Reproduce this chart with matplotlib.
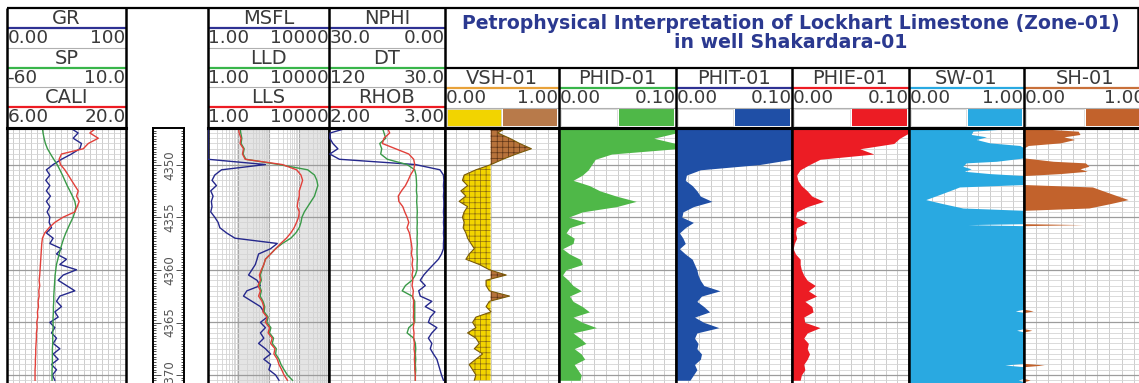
import numpy as np
import matplotlib.pyplot as plt

plt.rcParams['font.family'] = ['DejaVu Sans']
plt.rcParams['hatch.linewidth'] = 0.5

W, H = 1139, 383

# log samples, every 0.5 m
depth = np.arange(4346.5, 4370.75, 0.5)

gr = [52.8, 59.8, 55.6, 62.6, 61.2, 54.2, 45.8, 38.8, 33.1, 36.0, 32.6, 36.0, 33.1, 36.5, 33.1, 36.0, 33.7,
      36.0, 35.4, 37.4, 33.1, 38.8, 36.0, 45.8, 41.6, 50.0, 44.4, 58.4, 47.2, 43.0, 50.0, 57.0, 44.4, 41.6,
      45.8, 40.2, 43.0, 36.0, 40.2, 37.4, 41.6, 38.8, 44.4, 38.8, 43.0, 37.4, 41.6, 38.2, 40.2]
sp = [-39.2, -38.8, -38.2, -37.4, -36.2, -34.4, -32.5, -30.5, -28.9, -27.4, -26.0, -24.6, -23.0, -21.5, -20.1,
      -19.5, -20.1, -21.1, -22.6, -24.0, -25.4, -26.6, -27.6, -28.5, -29.3, -30.1, -30.9, -31.3, -31.7, -31.9,
      -32.1, -32.3, -32.5, -32.5, -32.7, -32.7, -32.9, -32.9, -32.9, -33.1, -33.1, -33.1, -33.3, -33.3, -33.3,
      -33.3, -33.5, -33.5, -33.5]
cali = [16.54, 15.75, 16.74, 15.56, 14.97, 12.41, 12.13, 12.29, 12.80, 13.20, 13.59, 13.98, 14.38, 14.18,
        14.49, 14.26, 13.98, 12.61, 11.62, 10.96, 10.44, 10.17, 10.09, 10.05, 10.01, 9.97, 9.93, 9.89, 9.85,
        9.78, 9.85, 9.74, 9.78, 9.66, 9.70, 9.58, 9.62, 9.50, 9.54, 9.46, 9.46, 9.42, 9.38, 9.38, 9.34, 9.34,
        9.30, 9.30, 9.30]

msfl = [1.0, 1.0, 1.0, 1.0, 1.0, 1.0, 1.0, 79, 2.8, 1.67, 1.36, 1.9, 1.23, 1.47, 1.29, 1.36, 1.23, 1.67, 2.16,
        2.46, 4.1, 7.8, 195, 117, 47, 41.7, 36.7, 28.4, 21.9, 41.7, 54, 19.3, 14.9, 28.4, 54, 70, 90, 54, 79,
        54, 70, 47, 79, 117, 70, 117, 103, 172, 222]
lld = [11.5, 12.1, 13.1, 12.4, 15.7, 14.5, 17.8, 222, 1977, 3311, 3963, 4279, 3758, 3311, 2557, 1977, 1528,
       1277, 1183, 1040, 803, 546, 287, 172, 117, 79, 70, 61, 54, 58, 50, 58, 53, 66, 75, 72, 97, 88, 120, 108,
       147, 133, 181, 172, 222, 259, 327, 422, 621]
lls = [10.1, 10.7, 12.4, 11.5, 14.9, 13.8, 16.9, 287, 846, 1183, 1343, 1183, 1040, 1040, 938, 891, 1040, 987,
       846, 706, 546, 391, 253, 172, 117, 79, 70, 58, 50, 54, 45, 54, 47, 61, 70, 65, 90, 79, 108, 97, 133, 117,
       163, 151, 195, 222, 273, 327, 422]

nphi = [25.0, 29.7, 29.8, 29.0, 27.7, 29.8, 27.3, 7.7, 1.3, 0.4, 0.3, 0.4, 0.3, 0.4, 0.3, 0.3, 0.4, 0.3, 0.4,
        0.3, 0.4, 0.3, 0.4, 0.4, 0.9, 1.7, 3.0, 4.3, 5.5, 6.4, 5.1, 6.8, 6.4, 3.4, 5.1, 2.6, 3.8, 4.3, 2.1, 3.4,
        4.3, 3.4, 3.8, 3.0, 2.1, 1.7, 1.3, 0.9, 0.4]
dt = [78.6, 77.3, 76.0, 80.6, 79.1, 79.9, 74.7, 59.4, 53.5, 52.5, 52.2, 52.0, 52.2, 51.7, 52.0, 51.7, 51.5,
      51.7, 51.5, 51.7, 51.5, 51.7, 51.5, 51.7, 51.7, 51.5, 51.7, 51.7, 53.0, 55.6, 60.7, 63.2, 55.6, 53.5,
      53.5, 53.5, 53.5, 53.5, 58.1, 59.4, 54.3, 53.0, 52.7, 53.0, 52.7, 53.0, 52.7, 53.0, 53.0]
rhob = [2.503, 2.523, 2.474, 2.460, 2.574, 2.688, 2.730, 2.739, 2.730, 2.702, 2.682, 2.659, 2.625, 2.597,
        2.602, 2.636, 2.653, 2.673, 2.688, 2.673, 2.693, 2.702, 2.710, 2.716, 2.710, 2.722, 2.716, 2.724,
        2.716, 2.722, 2.716, 2.727, 2.722, 2.730, 2.727, 2.730, 2.727, 2.733, 2.727, 2.733, 2.730, 2.736,
        2.733, 2.739, 2.736, 2.739, 2.739, 2.744, 2.744]

vsh = [0.537, 0.463, 0.566, 0.655, 0.758, 0.625, 0.507, 0.404, 0.271, 0.168, 0.153, 0.198, 0.139, 0.183,
       0.124, 0.198, 0.168, 0.153, 0.168, 0.159, 0.183, 0.198, 0.227, 0.257, 0.212, 0.183, 0.301, 0.389,
       0.537, 0.360, 0.360, 0.389, 0.566, 0.389, 0.360, 0.404, 0.271, 0.242, 0.271, 0.198, 0.271, 0.301,
       0.257, 0.330, 0.271, 0.212, 0.242, 0.271, 0.257]
vsh_cutoff = 0.4
phid = [0.100, 0.100, 0.081, 0.100, 0.100, 0.045, 0.031, 0.028, 0.025, 0.020, 0.012, 0.026, 0.035, 0.049,
        0.066, 0.049, 0.020, 0.008, 0.023, 0.009, 0.006, 0.013, 0.012, 0.003, 0.009, 0.018, 0.020, 0.006,
        0.003, 0.008, 0.012, 0.019, 0.009, 0.012, 0.020, 0.026, 0.012, 0.020, 0.032, 0.012, 0.018, 0.023,
        0.013, 0.019, 0.022, 0.013, 0.016, 0.019, 0.018]
phit = [0.100, 0.100, 0.100, 0.100, 0.100, 0.100, 0.100, 0.072, 0.021, 0.009, 0.008, 0.014, 0.018, 0.021,
        0.031, 0.015, 0.006, 0.005, 0.015, 0.008, 0.003, 0.006, 0.008, 0.003, 0.008, 0.014, 0.016, 0.018,
        0.019, 0.021, 0.024, 0.038, 0.022, 0.018, 0.024, 0.029, 0.016, 0.024, 0.037, 0.018, 0.016, 0.019,
        0.018, 0.022, 0.021, 0.016, 0.018, 0.015, 0.012]
phie = [0.100, 0.100, 0.092, 0.087, 0.058, 0.070, 0.024, 0.015, 0.007, 0.004, 0.005, 0.008, 0.013, 0.017,
        0.027, 0.013, 0.004, 0.003, 0.013, 0.004, 0.003, 0.004, 0.002, 0.001, 0.003, 0.007, 0.007, 0.008,
        0.010, 0.013, 0.020, 0.014, 0.021, 0.011, 0.017, 0.018, 0.010, 0.011, 0.024, 0.013, 0.010, 0.014,
        0.013, 0.015, 0.013, 0.010, 0.011, 0.008, 0.007]

# water saturation picked at its break points
sw_depth = [4346.5, 4346.83, 4347.14, 4347.37, 4347.62, 4347.94, 4348.19, 4348.42, 4349.37, 4349.69,
            4349.84, 4350.16, 4350.41, 4350.64, 4350.86, 4351.05, 4351.90, 4352.13, 4352.38, 4352.86,
            4353.33, 4353.71, 4354.13, 4354.35, 4355.62, 4355.71, 4355.81, 4363.75, 4363.91, 4364.07,
            4365.59, 4365.75, 4365.91, 4368.89, 4369.05, 4369.21, 4370.32, 4370.48, 4370.63, 4370.8]
sw = [0.994, 0.556, 0.541, 0.673, 0.585, 0.702, 0.965, 1.0, 1.0, 0.760, 0.497, 0.468, 0.541, 0.482, 0.702,
      1.0, 1.0, 0.439, 0.380, 0.263, 0.146, 0.292, 0.468, 1.0, 1.0, 0.512, 1.0, 1.0, 0.924, 1.0, 1.0, 0.936,
      1.0, 1.0, 0.833, 1.0, 1.0, 0.950, 1.0, 1.0]
sh = 1 - np.array(sw)

depth_labels = [4350, 4355, 4360, 4365, 4370]

TXT = '#3a3a3a'
BLUE, GREEN, RED = '#2e3192', '#39b54a', '#ed1c24'
C_BLUE, C_GREEN, C_RED = '#25288c', '#3a9a48', '#e2403a'

TOP, BOT = 127.5, 383
D_TOP, D_BOT = 4346.48, 4370.76

fig = plt.figure(figsize=(W / 100, H / 100), dpi=100)


def box(x0, y0, x1, y1):
    return [x0 / W, 1 - y1 / H, (x1 - x0) / W, (y1 - y0) / H]


def track(x0, x1, ndiv=10, log=False):
    ax = fig.add_axes(box(x0, TOP, x1, BOT))
    ax.set_ylim(D_BOT, D_TOP)
    if log:
        ax.set_xscale('log')
        ax.set_xlim(1, 10000)
        for lo in (10, 1000):
            ax.axvspan(lo, lo * 10, color='#e4e4e4', lw=0, zorder=0)
        ax.set_xticks([1, 10, 100, 1000, 10000])
        ax.set_xticks([m * 10 ** e for e in range(4) for m in range(2, 10)], minor=True)
        ax.grid(axis='x', which='major', color='#a8a8a8', lw=0.8)
        ax.grid(axis='x', which='minor', color='#d2d2d2', lw=0.6)
    else:
        ax.set_xlim(0, 1)
        ax.set_xticks(np.linspace(0, 1, ndiv + 1))
        ax.grid(axis='x', which='major', color='#cdcdcd', lw=0.7)
    ax.set_yticks(depth_labels)
    ax.set_yticks(np.arange(4346.5, 4371, 0.5), minor=True)
    ax.grid(axis='y', which='major', color='#9c9c9c', lw=0.9)
    ax.grid(axis='y', which='minor', color='#d4d4d4', lw=0.6)
    ax.set_axisbelow(True)
    ax.tick_params(which='both', length=0, labelbottom=False, labelleft=False)
    for s in ('left', 'right'):
        ax.spines[s].set_linewidth(1.8)
    ax.spines['top'].set_linewidth(2.2)
    ax.spines['bottom'].set_visible(False)
    return ax


def curve(base, lo, hi, values, color, log=False):
    a = base.twiny()
    if log:
        a.set_xscale('log')
    a.set_xlim(lo, hi)
    a.plot(values, depth, color=color, lw=1.0)
    a.axis('off')
    return a


# GR / SP / CALI
t1 = track(7, 126, ndiv=20)
curve(t1, 0, 100, gr, C_BLUE)
curve(t1, -60, 10, sp, C_GREEN)
curve(t1, 6, 20, cali, C_RED)

# depth ruler
rul = fig.add_axes(box(153, 128, 184, BOT))
rul.set_xlim(0, 1)
rul.set_ylim(D_BOT, D_TOP)
rul.set_xticks([])
rul.set_yticks(depth_labels)
rul.set_yticks(np.arange(4346.5, 4371, 0.25), minor=True)
rul.tick_params(axis='y', which='both', direction='in', left=True, right=True,
                labelleft=False, color='#333333', width=0.6)
rul.tick_params(axis='y', which='major', length=6)
rul.tick_params(axis='y', which='minor', length=2.5)
rul.spines['bottom'].set_visible(False)
for s in ('left', 'right', 'top'):
    rul.spines[s].set_linewidth(1.4)
for d in depth_labels:
    rul.text(0.55, d, str(d), rotation=90, ha='center', va='center', fontsize=8.5, color='#555555')

# resistivity
t3 = track(208, 329, log=True)
curve(t3, 1, 10000, msfl, C_BLUE, log=True)
curve(t3, 1, 10000, lld, C_GREEN, log=True)
curve(t3, 1, 10000, lls, C_RED, log=True)

# porosity logs
t4 = track(329, 445)
curve(t4, 30, 0, nphi, C_BLUE)
curve(t4, 120, 30, dt, C_GREEN)
curve(t4, 2, 3, rhob, C_RED)

# interpretation tracks
tv = track(445, 559)
v = np.array(vsh)
tv.fill_betweenx(depth, v, vsh_cutoff, where=v <= vsh_cutoff, interpolate=True,
                 facecolor='#f2d400', edgecolor='#8a6a12', hatch='+++', linewidth=0)
tv.fill_betweenx(depth, vsh_cutoff, v, where=v >= vsh_cutoff, interpolate=True,
                 facecolor='#b8733c', edgecolor='#5e3416', hatch='+++', linewidth=0)
tv.plot(v, depth, color='#7a5a08', lw=0.8)

tp = track(559, 676)
tp.set_xlim(0, 0.1)
tp.set_xticks(np.linspace(0, 0.1, 11))
tp.fill_betweenx(depth, 0, phid, color='#4fb848', lw=0)

tt = track(676, 792)
tt.set_xlim(0, 0.1)
tt.set_xticks(np.linspace(0, 0.1, 11))
tt.fill_betweenx(depth, 0, phit, color='#1f4fa6', lw=0)

te = track(792, 909)
te.set_xlim(0, 0.1)
te.set_xticks(np.linspace(0, 0.1, 11))
te.fill_betweenx(depth, 0, phie, color='#ec1c24', lw=0)

ts = track(909, 1024)
ts.fill_betweenx(sw_depth, 0, sw, color='#29a9e1', lw=0)

th = track(1024, 1146)
th.fill_betweenx(sw_depth, 0, sh, color='#c2622c', lw=0)

# header panel, drawn in pixel units
hdr = fig.add_axes([0, 0, 1, 1])
hdr.set_xlim(0, W)
hdr.set_ylim(H, 0)
hdr.axis('off')
hdr.set_zorder(10)


def hline(y, x0, x1, color='black', lw=1.0):
    hdr.plot([x0, x1], [y, y], color=color, lw=lw, solid_capstyle='butt')


def vline(x, y0, y1, lw=1.8):
    hdr.plot([x, x], [y0, y1], color='black', lw=lw, solid_capstyle='butt')


def scale_row(x0, x1, y, left, right):
    hdr.text(x0 + 0.5, y, left, ha='left', va='center', fontsize=13.3, color=TXT)
    hdr.text(x1 - 0.5, y, right, ha='right', va='center', fontsize=13.3, color=TXT)


log_heads = [
    (7, 126, [('GR', '0.00', '100', BLUE), ('SP', '-60', '10.0', GREEN), ('CALI', '6.00', '20.0', RED)]),
    (208, 329, [('MSFL', '1.00', '10000', BLUE), ('LLD', '1.00', '10000', GREEN), ('LLS', '1.00', '10000', RED)]),
    (329, 445, [('NPHI', '30.0', '0.00', BLUE), ('DT', '120', '30.0', GREEN), ('RHOB', '2.00', '3.00', RED)]),
]
for x0, x1, rows in log_heads:
    for k, (name, lo, hi, col) in enumerate(rows):
        y0 = 8 + k * 39.7
        hdr.text((x0 + x1) / 2, y0 + 10.5, name, ha='center', va='center', fontsize=14, color=TXT)
        hline(y0 + 20, x0, x1, col, 1.6)
        scale_row(x0, x1, y0 + 30, lo, hi)
        if k < 2:
            hline(y0 + 39.5, x0, x1, '#b0b0b0', 0.8)
    hline(127.5, x0, x1, 'black', 2.2)

interp_heads = [
    (445, 559, 'VSH-01', '0.00', '1.00', '#e8a23a', '#f2d400', '#b87a4a'),
    (559, 676, 'PHID-01', '0.00', '0.10', GREEN, 'white', '#4fb848'),
    (676, 792, 'PHIT-01', '0.00', '0.10', BLUE, 'white', '#1f4fa6'),
    (792, 909, 'PHIE-01', '0.00', '0.10', RED, 'white', '#ec1c24'),
    (909, 1024, 'SW-01', '0.00', '1.00', '#29a9e1', 'white', '#29a9e1'),
    (1024, 1146, 'SH-01', '0.00', '1.00', '#c8703a', 'white', '#c2622c'),
]
for x0, x1, name, lo, hi, col, left_c, right_c in interp_heads:
    hdr.text((x0 + x1) / 2, 78.5, name, ha='center', va='center', fontsize=14, color=TXT)
    hline(88, x0, x1, col, 1.6)
    scale_row(x0, x1, 98, lo, hi)
    hline(107.5, x0, x1, '#b0b0b0', 0.8)
    mid = (x0 + x1) / 2
    hdr.add_patch(plt.Rectangle((x0 + 2, 109), mid - x0 - 3, 17, facecolor=left_c,
                                edgecolor='#d0d0d0', lw=0.5))
    hdr.add_patch(plt.Rectangle((mid + 1, 109), x1 - mid - 3, 17, facecolor=right_c, lw=0))
    hline(127.5, x0, x1, 'black', 2.2)
    if x0 > 445:
        vline(x0, 68, 128)

# outer frame of the header
hline(8, 7, W, 'black', 1.6)
hline(68, 445, W, 'black', 1.6)
for x in (7, 126, 208, 329, 445):
    vline(x, 8, 128)
vline(1138, 8, 68)

hdr.text(791, 33, 'Petrophysical Interpretation of Lockhart Limestone (Zone-01)\nin well Shakardara-01',
         ha='center', va='center', fontsize=13.6, fontweight='bold', color='#2b3990', linespacing=1.0)

fig.savefig('out.png', dpi=100)
